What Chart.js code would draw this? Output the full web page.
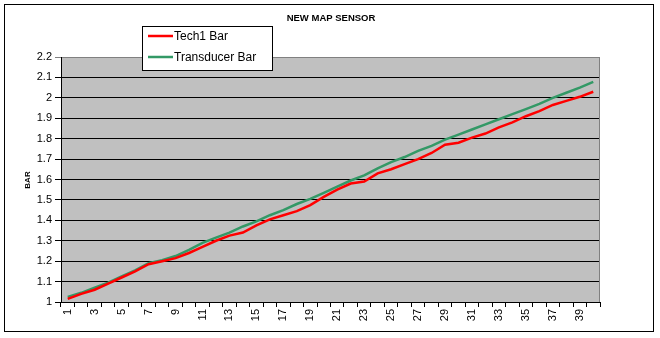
<!DOCTYPE html>
<html>
<head>
<meta charset="utf-8">
<script src="https://cdn.jsdelivr.net/npm/chart.js@4/dist/chart.umd.min.js"></script>
<style>
html,body{margin:0;padding:0;background:#fff;}
canvas{display:block;}
</style>
</head>
<body>
<canvas id="c" width="660" height="338"></canvas>
<script>
const chartTitle = "NEW MAP SENSOR";
const yAxisTitle = "BAR";
const categories = Array.from({length: 40}, (_, i) => String(i + 1));
const tech1Bar = [1.015,1.04,1.06,1.09,1.12,1.15,1.185,1.2,1.215,1.24,
                  1.27,1.3,1.325,1.34,1.375,1.405,1.425,1.445,1.475,1.515,
                  1.55,1.58,1.59,1.63,1.65,1.675,1.7,1.73,1.77,1.78,
                  1.805,1.825,1.855,1.88,1.91,1.935,1.965,1.985,2.005,2.03];
const transducerBar = [1.025,1.045,1.07,1.095,1.125,1.155,1.19,1.205,1.225,1.255,
                       1.29,1.315,1.34,1.37,1.395,1.425,1.45,1.48,1.505,1.535,
                       1.565,1.595,1.62,1.655,1.685,1.71,1.74,1.765,1.795,1.82,
                       1.845,1.87,1.895,1.92,1.945,1.97,2.0,2.025,2.05,2.078];
const seriesNames = ["Tech1 Bar", "Transducer Bar"];
const seriesColors = ["#ff0000", "#339966"];
const yMin = 1, yMax = 2.2, yStep = 0.1;

const FONT = "'Liberation Sans', Arial, sans-serif";

const decor = {
  id: 'decor',
  beforeDraw(chart) {
    const ctx = chart.ctx, a = chart.chartArea;
    ctx.save();
    ctx.fillStyle = '#fff';
    ctx.fillRect(0, 0, chart.width, chart.height);
    ctx.strokeStyle = '#000';
    ctx.lineWidth = 1;
    ctx.strokeRect(4.5, 4.5, 649, 327);
    ctx.fillStyle = '#c0c0c0';
    ctx.fillRect(a.left, a.top, a.right - a.left, a.bottom - a.top);
    ctx.restore();
  },
  afterDatasetsDraw(chart) {
    const ctx = chart.ctx, a = chart.chartArea;
    ctx.save();
    ctx.strokeStyle = '#808080';
    ctx.lineWidth = 1;
    ctx.beginPath();
    ctx.moveTo(Math.round(a.right) - 0.5, a.top);
    ctx.lineTo(Math.round(a.right) - 0.5, a.bottom);
    ctx.stroke();
    ctx.fillStyle = '#000';
    ctx.font = "bold 9.5px " + FONT;
    ctx.textAlign = 'center';
    ctx.textBaseline = 'middle';
    ctx.fillText(chartTitle, 331, 18);
    ctx.save();
    ctx.translate(28, 180);
    ctx.rotate(-Math.PI / 2);
    ctx.font = "bold 8px " + FONT;
    ctx.fillText(yAxisTitle, 0, 0);
    ctx.restore();
    ctx.fillStyle = '#fff';
    ctx.fillRect(142, 26, 130, 44);
    ctx.strokeStyle = '#000';
    ctx.strokeRect(142.5, 26.5, 130, 44);
    const ys = [36, 57];
    ctx.font = "12px " + FONT;
    ctx.textAlign = 'left';
    for (let i = 0; i < 2; i++) {
      ctx.strokeStyle = seriesColors[i];
      ctx.lineWidth = 2.5;
      ctx.beginPath();
      ctx.moveTo(148, ys[i]);
      ctx.lineTo(173, ys[i]);
      ctx.stroke();
      ctx.fillStyle = '#000';
      ctx.fillText(seriesNames[i], 174, ys[i] + 1);
    }
    ctx.restore();
  }
};

new Chart(document.getElementById('c'), {
  type: 'line',
  data: {
    labels: categories,
    datasets: [
      { label: seriesNames[0], data: tech1Bar, borderColor: seriesColors[0], borderWidth: 2.5, pointRadius: 0, tension: 0, fill: false },
      { label: seriesNames[1], data: transducerBar, borderColor: seriesColors[1], borderWidth: 2.5, pointRadius: 0, tension: 0, fill: false }
    ]
  },
  options: {
    responsive: false,
    animation: false,
    devicePixelRatio: 1,
    layout: { padding: { left: 0, top: 57, right: 60, bottom: 0 } },
    plugins: { legend: { display: false }, title: { display: false }, tooltip: { enabled: false } },
    scales: {
      x: {
        type: 'category',
        offset: true,
        afterFit(s) { s.height = 36; },
        grid: { offset: true, drawOnChartArea: false, drawTicks: true, tickLength: 5, color: '#000' },
        border: { color: '#000', width: 1 },
        ticks: {
          autoSkip: false, minRotation: 90, maxRotation: 90, padding: 2,
          color: '#000', font: { family: FONT, size: 11 },
          callback(v, i) { return i % 2 === 0 ? categories[i] : ''; }
        }
      },
      y: {
        min: yMin, max: yMax,
        afterFit(s) { s.width = 61; },
        grid: {
          drawTicks: true, tickLength: 6,
          color(c) { return (c.tick && Math.abs(c.tick.value - yMax) < 1e-6) ? '#808080' : '#000'; }
        },
        border: { color: '#000', width: 1 },
        ticks: {
          stepSize: yStep, padding: 3, color: '#000', font: { family: FONT, size: 11 },
          callback(v) { return String(+v.toFixed(1)); }
        }
      }
    }
  },
  plugins: [decor]
});
</script>
</body>
</html>
